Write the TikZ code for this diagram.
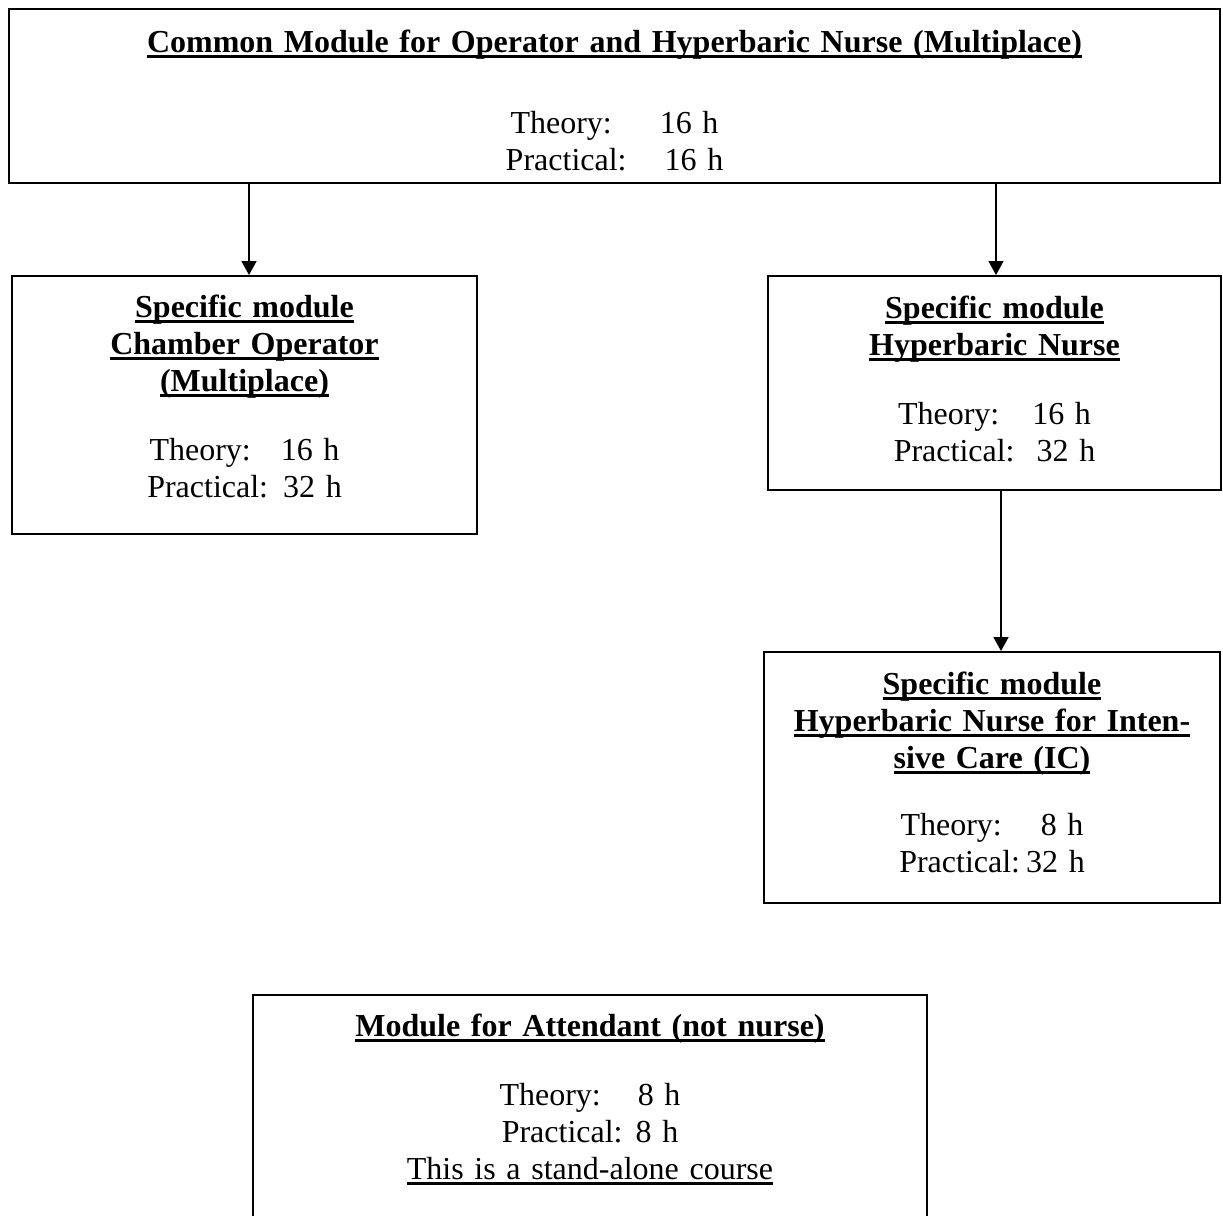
\documentclass[tikz,border=0pt]{standalone}
\usepackage{fontspec}
\setmainfont{Liberation Serif}
\usetikzlibrary{arrows.meta}
\tikzset{%
  >={Triangle[width=7.5pt,length=7pt]},
  % Specifications for style of nodes:
            base/.style = {rectangle, draw=black, line width=1pt,
                           inner sep=0pt, align=center,
                           font=\fontsize{16pt}{18.5pt}\selectfont},
          module/.style = {base, text height=11pt},
}
\newsavebox{\modbox}
\newcommand{\modtitle}[1]{\leavevmode\sbox{\modbox}{\textbf{#1}}\rlap{\rule[-3.2pt]{\wd\modbox}{1.6pt}}\usebox{\modbox}}
\newcommand{\modnote}[1]{\leavevmode\sbox{\modbox}{#1}\rlap{\rule[-2.9pt]{\wd\modbox}{1.2pt}}\usebox{\modbox}}

\begin{document}
\begin{tikzpicture}[
  ->,
    x=0.5pt, y=-0.5pt,
    node distance=150pt,
    line width=0.9pt]

  \useasboundingbox (0,0) rectangle (1223,1216);
  \clip (0,0) rectangle (1223,1216);

  \node(common)   at (614.5,96) [module, text width=605.5pt, minimum height=87pt,
                                 text height=15pt, text depth=59pt]
        {\modtitle{Common Module for Operator and Hyperbaric Nurse (Multiplace)}\\[22pt]
         Theory:\hspace{24pt}16 h\\
         Practical:\hspace{19pt}16 h};

  \node(chamber)  [module, below of=common, xshift=-185pt, yshift=-4.5pt,
                   text width=232.5pt, minimum height=129pt, text depth=99pt]
        {\modtitle{Specific module}\\
         \modtitle{Chamber Operator}\\
         \modtitle{(Multiplace)}\\[16pt]
         Theory:\hspace{15pt}16 h\\
         Practical:\hspace{7.5pt}32 h};

  \node(nurse)    [module, below of=common, xshift=190pt, yshift=6.5pt,
                   text width=226.5pt, minimum height=107pt, text depth=76pt]
        {\modtitle{Specific module}\\
         \modtitle{Hyperbaric Nurse}\\[16pt]
         Theory:\hspace{16.5pt}16 h\\
         Practical:\hspace{11pt}32 h};

  \node(ic)       [module, below of=nurse, xshift=-1.25pt, yshift=-47.25pt,
                   text width=228pt, minimum height=125.5pt, text depth=94.5pt]
        {\modtitle{Specific module}\\
         \modtitle{Hyperbaric Nurse for Inten-}\\
         \modtitle{sive Care (IC)}\\[15pt]
         Theory:\hspace{19.5pt}8 h\\
         Practical:\hspace{3pt}32 h};

  \node(attendant) [module, below of=common, xshift=-12.25pt, yshift=-360.25pt,
                   text width=337pt, minimum height=121.5pt, text depth=91.5pt]
        {\modtitle{Module for Attendant (not nurse)}\\[16pt]
         Theory:\hspace{18.5pt}8 h\\
         Practical:\hspace{6.5pt}8 h\\
         \modnote{This is a stand-alone course}};

  % connections between the modules
  \draw[->]             ([xshift=-182.75pt]common.south) -- ([xshift=2.25pt]chamber.north);
  \draw[->]             ([xshift=190.75pt]common.south) -- ([xshift=0.75pt]nurse.north);
  \draw[->]             ([xshift=3.25pt]nurse.south) -- ([xshift=4.5pt]ic.north);

\end{tikzpicture}
\end{document}
